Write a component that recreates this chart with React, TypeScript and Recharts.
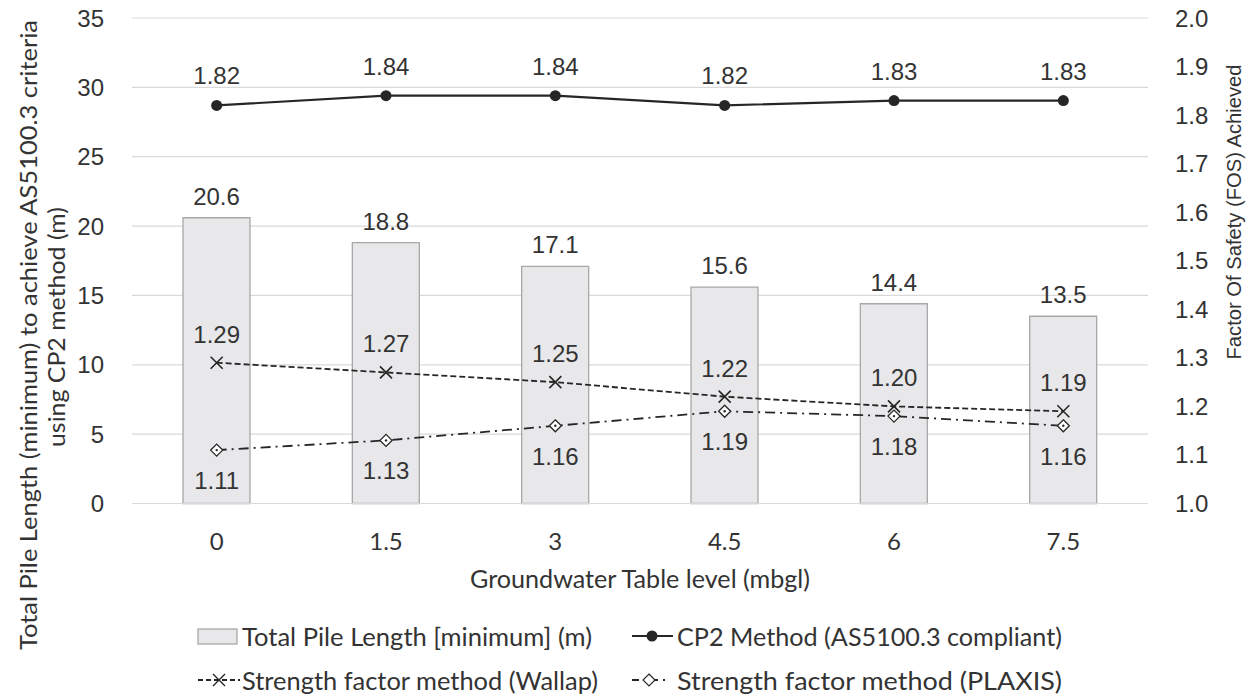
import React from 'react';
import { ComposedChart, Bar, Line, XAxis, YAxis, CartesianGrid, LabelList } from 'recharts';

const categories = ['0', '1.5', '3', '4.5', '6', '7.5'];
const pileLength = [20.6, 18.8, 17.1, 15.6, 14.4, 13.5];
const cp2Fos = [1.82, 1.84, 1.84, 1.82, 1.83, 1.83];
const wallapFos = [1.29, 1.27, 1.25, 1.22, 1.2, 1.19];
const plaxisFos = [1.11, 1.13, 1.16, 1.19, 1.18, 1.16];
const leftTicks = [0, 5, 10, 15, 20, 25, 30, 35];
const rightTicks = [1.0, 1.1, 1.2, 1.3, 1.4, 1.5, 1.6, 1.7, 1.8, 1.9, 2.0];

const data = categories.map((gw, i) => ({
  gw,
  pile: pileLength[i],
  cp2: cp2Fos[i],
  wallap: wallapFos[i],
  plaxis: plaxisFos[i],
}));

const INK = '#262626';
const TXT = '#333333';
const ARIAL = '"Liberation Sans", Arial, sans-serif';
const HUMAN = 'Lato, "Noto Sans", sans-serif';

const CrossDot = (props: any) => {
  const { cx, cy, index } = props;
  if (cx == null || cy == null) return <g key={`x${index}`} />;
  const s = 6;
  return (
    <path
      key={`x${index}`}
      d={`M${cx - s},${cy - s}L${cx + s},${cy + s}M${cx + s},${cy - s}L${cx - s},${cy + s}`}
      stroke={INK}
      strokeWidth={1.6}
      fill="none"
    />
  );
};

const DiamondDot = (props: any) => {
  const { cx, cy, index } = props;
  if (cx == null || cy == null) return <g key={`d${index}`} />;
  const s = 6;
  return (
    <g key={`d${index}`}>
      <path
        d={`M${cx},${cy - s}L${cx + s},${cy}L${cx},${cy + s}L${cx - s},${cy}Z`}
        stroke={INK}
        strokeWidth={1.3}
        fill="#ffffff"
      />
      <circle cx={cx} cy={cy} r={1.2} fill={INK} />
    </g>
  );
};

const CircleDot = (props: any) => {
  const { cx, cy, index } = props;
  if (cx == null || cy == null) return <g key={`c${index}`} />;
  return <circle key={`c${index}`} cx={cx} cy={cy} r={5.5} fill={INK} />;
};

const labelStyle = { fill: TXT, fontSize: 24, fontFamily: ARIAL };

export default function App() {
  return (
    <div style={{ position: 'absolute', left: 0, top: 0, width: 1255, height: 697, background: '#fff' }}>
      <ComposedChart
        width={1255}
        height={697}
        data={data}
        margin={{ top: 18, right: 27, bottom: 113.5, left: 52 }}
      >
        <CartesianGrid yAxisId="left" vertical={false} stroke="#d9d9d9" strokeWidth={1.2} />
        <XAxis
          dataKey="gw"
          type="category"
          axisLine={{ stroke: '#d9d9d9', strokeWidth: 1.2 }}
          tickLine={false}
          tickSize={0}
          tickMargin={29}
          height={80}
          tick={{ fill: TXT, fontSize: 24, fontFamily: HUMAN }}
        />
        <YAxis
          yAxisId="left"
          orientation="left"
          domain={[0, 35]}
          ticks={leftTicks}
          width={80}
          axisLine={false}
          tickLine={false}
          tickSize={0}
          tickMargin={28}
          tick={{ fill: TXT, fontSize: 24, fontFamily: ARIAL }}
        />
        <YAxis
          yAxisId="right"
          orientation="right"
          domain={[1, 2]}
          ticks={rightTicks}
          width={80}
          axisLine={false}
          tickLine={false}
          tickSize={0}
          tickMargin={27}
          tickFormatter={(v: number) => v.toFixed(1)}
          tick={{ fill: TXT, fontSize: 24, fontFamily: ARIAL }}
        />
        <Bar
          yAxisId="left"
          dataKey="pile"
          barSize={67}
          fill="#e8e8ea"
          stroke="#a8a8a8"
          strokeWidth={1.3}
          isAnimationActive={false}
        >
          <LabelList
            dataKey="pile"
            position="top"
            offset={13}
            formatter={(v: any) => Number(v).toFixed(1)}
            style={labelStyle}
          />
        </Bar>
        <Line
          yAxisId="right"
          dataKey="cp2"
          stroke={INK}
          strokeWidth={2.2}
          dot={CircleDot}
          activeDot={false}
          isAnimationActive={false}
        >
          <LabelList
            dataKey="cp2"
            position="top"
            offset={21}
            formatter={(v: any) => Number(v).toFixed(2)}
            style={labelStyle}
          />
        </Line>
        <Line
          yAxisId="right"
          dataKey="wallap"
          stroke={INK}
          strokeWidth={1.8}
          strokeDasharray="6 3"
          dot={CrossDot}
          activeDot={false}
          isAnimationActive={false}
        >
          <LabelList
            dataKey="wallap"
            position="top"
            offset={20}
            formatter={(v: any) => Number(v).toFixed(2)}
            style={labelStyle}
          />
        </Line>
        <Line
          yAxisId="right"
          dataKey="plaxis"
          stroke={INK}
          strokeWidth={1.8}
          strokeDasharray="10 5 2 5"
          dot={DiamondDot}
          activeDot={false}
          isAnimationActive={false}
        >
          <LabelList
            dataKey="plaxis"
            position="bottom"
            offset={22}
            formatter={(v: any) => Number(v).toFixed(2)}
            style={labelStyle}
          />
        </Line>
      </ComposedChart>
      <svg
        width={1255}
        height={697}
        style={{ position: 'absolute', left: 0, top: 0, pointerEvents: 'none' }}
      >
        <text
          x={28}
          y={335}
          transform="rotate(-90 28 335)"
          textAnchor="middle"
          dominantBaseline="central"
          fontFamily={HUMAN}
          fontSize={23}
          fill={TXT}
          textLength={630}
          lengthAdjust="spacingAndGlyphs"
        >
          Total Pile Length (minimum) to achieve AS5100.3 criteria
        </text>
        <text
          x={56}
          y={327}
          transform="rotate(-90 56 327)"
          textAnchor="middle"
          dominantBaseline="central"
          fontFamily={HUMAN}
          fontSize={23}
          fill={TXT}
          textLength={240}
          lengthAdjust="spacingAndGlyphs"
        >
          using CP2 method (m)
        </text>
        <text
          x={1233}
          y={212}
          transform="rotate(-90 1233 212)"
          textAnchor="middle"
          dominantBaseline="central"
          fontFamily={ARIAL}
          fontSize={21}
          fill={TXT}
          textLength={295}
          lengthAdjust="spacingAndGlyphs"
        >
          Factor Of Safety (FOS) Achieved
        </text>
        <text
          x={640}
          y={578}
          textAnchor="middle"
          dominantBaseline="central"
          fontFamily={HUMAN}
          fontSize={25}
          fill={TXT}
          textLength={340}
          lengthAdjust="spacingAndGlyphs"
        >
          Groundwater Table level (mbgl)
        </text>

        {/* Legend row 1 */}
        <rect x={198} y={629} width={39} height={15} fill="#e8e8ea" stroke="#a8a8a8" strokeWidth={1.3} />
        <text x={242} y={636} dominantBaseline="central" fontFamily={HUMAN} fontSize={25} fill={TXT} textLength={350} lengthAdjust="spacingAndGlyphs">
          Total Pile Length [minimum] (m)
        </text>
        <line x1={632} y1={636} x2={673} y2={636} stroke={INK} strokeWidth={2.2} />
        <circle cx={652} cy={636} r={5.5} fill={INK} />
        <text x={677} y={636} dominantBaseline="central" fontFamily={HUMAN} fontSize={25} fill={TXT} textLength={385} lengthAdjust="spacingAndGlyphs">
          CP2 Method (AS5100.3 compliant)
        </text>

        {/* Legend row 2 */}
        <line x1={198} y1={680} x2={240} y2={680} stroke={INK} strokeWidth={1.8} strokeDasharray="5 3" />
        <path d="M213,674L225,686M225,674L213,686" stroke={INK} strokeWidth={1.4} fill="none" />
        <text x={242} y={680} dominantBaseline="central" fontFamily={HUMAN} fontSize={25} fill={TXT} textLength={356} lengthAdjust="spacingAndGlyphs">
          Strength factor method (Wallap)
        </text>
        <line x1={632} y1={680} x2={666} y2={680} stroke={INK} strokeWidth={1.8} strokeDasharray="7 5 2 5" />
        <path d="M649,674L655,680L649,686L643,680Z" stroke={INK} strokeWidth={1.2} fill="#ffffff" />
        <text x={677} y={680} dominantBaseline="central" fontFamily={HUMAN} fontSize={25} fill={TXT} textLength={385} lengthAdjust="spacingAndGlyphs">
          Strength factor method (PLAXIS)
        </text>
      </svg>
    </div>
  );
}
